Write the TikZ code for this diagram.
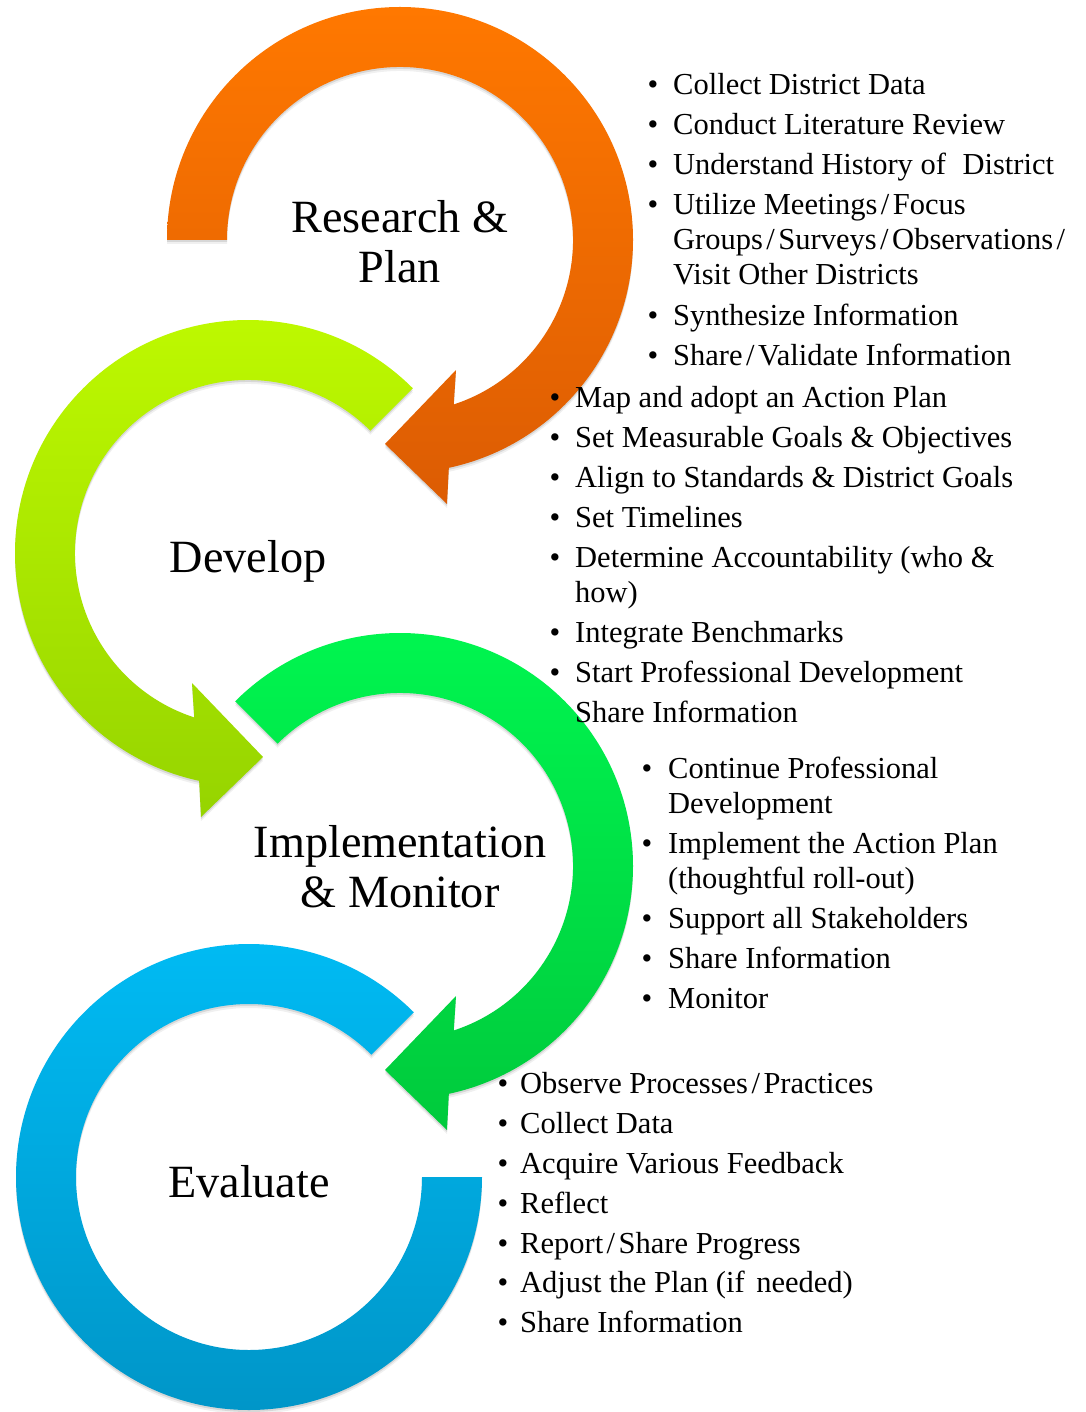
\documentclass[tikz,border=0pt]{standalone}
\usepackage{fontspec}
\setmainfont{Liberation Serif}
\definecolor{orT}{HTML}{FF7800}
\definecolor{orB}{HTML}{DC5C03}
\definecolor{ygT}{HTML}{BFFA00}
\definecolor{ygB}{HTML}{96D400}
\definecolor{grT}{HTML}{00F750}
\definecolor{grB}{HTML}{00CA3C}
\definecolor{blT}{HTML}{00BCF5}
\definecolor{blB}{HTML}{0094C6}
\newcommand\slsh{\kern3.5pt/\kern3.5pt}
% circular arrow: #1,#2 centre, #3 xscale (1 or -1), #4 start angle, #5 top colour, #6 bottom colour
\newcommand\circarrow[6]{%
  \begin{scope}[shift={(#1,#2)},xscale=#3]
    \foreach \dy/\op in {-2/0.10,-4/0.06}{%
      \fill[black,opacity=\op,shift={(0,\dy)}] (#4:233) arc[start angle=#4,end angle=-77.9,radius=233]
        -- (47,-264) -- (-15,-204) -- (56,-130) -- (-71.9:173)
        arc[start angle=-71.9,end angle=#4,radius=173] -- cycle;}
    \path[top color=#5,bottom color=#6] (#4:233) arc[start angle=#4,end angle=-77.9,radius=233]
      -- (47,-264) -- (-15,-204) -- (56,-130) -- (-71.9:173)
      arc[start angle=-71.9,end angle=#4,radius=173] -- cycle;
  \end{scope}}
\newcommand\bitem[5]{% name, bullet x, text x, baseline y, text
  \node[bul] (#1b) at (#2,-#4) {\textbullet};
  \node[itm] (#1) at (#3,-#4) {#5};}
\newcommand\citem[4]{% name, text x, baseline y, text
  \node[itm] (#1) at (#2,-#3) {#4};}
\begin{document}
\begin{tikzpicture}[x=1pt,y=1pt,
  lbl/.style={font=\fontsize{46.2}{50}\selectfont,inner sep=0,anchor=base},
  itm/.style={font=\fontsize{30.5}{35}\selectfont,inner sep=0,anchor=base west},
  bul/.style={font=\fontsize{30.5}{35}\selectfont,inner sep=0,anchor=base}]
\fill[white] (0,0) rectangle (1085,-1412);
\useasboundingbox (0,0) rectangle (1085,-1412);

% blue ring (Evaluate)
\begin{scope}[shift={(249,-1177)}]
  \foreach \dy/\op in {-2/0.10,-4/0.06}{%
    \fill[black,opacity=\op,shift={(0,\dy)}] (45:233) arc[start angle=45,end angle=360,radius=233]
      -- (0:173) arc[start angle=360,end angle=45,radius=173] -- cycle;}
  \path[top color=blT,bottom color=blB] (45:233) arc[start angle=45,end angle=360,radius=233]
    -- (0:173) arc[start angle=360,end angle=45,radius=173] -- cycle;
\end{scope}
% green (Implementation & Monitor)
\circarrow{400}{-866}{1}{135}{grT}{grB}
% yellow-green (Develop)
\circarrow{248}{-553}{-1}{135}{ygT}{ygB}
% orange (Research & Plan)
\circarrow{400}{-240}{1}{180}{orT}{orB}

% stage labels
\node[lbl] (rp1) at (400,-233) {Research \&};
\node[lbl] (rp2) at (400,-283) {Plan};
\node[lbl] (dev) at (248,-572) {Develop};
\node[lbl] (im1) at (400,-857) {Implementation};
\node[lbl] (im2) at (400,-907) {\& Monitor};
\node[lbl] (ev) at (249,-1197) {Evaluate};

% list 1
\bitem{a1}{653}{673}{95}{Collect District Data}
\bitem{a2}{653}{673}{135}{Conduct Literature Review}
\bitem{a3}{653}{673}{175}{Understand History of\hspace{9pt} District}
\bitem{a4}{653}{673}{215}{Utilize Meetings\slsh Focus}
\citem{a4b}{673}{250}{Groups\slsh Surveys\slsh Observations\slsh}
\citem{a4c}{673}{285}{Visit Other Districts}
\bitem{a5}{653}{673}{325}{Synthesize Information}
\bitem{a6}{653}{673}{365}{Share\slsh Validate Information}
% list 2
\bitem{b1}{555}{575}{407}{Map and adopt an Action Plan}
\bitem{b2}{555}{575}{447}{Set Measurable Goals \& Objectives}
\bitem{b3}{555}{575}{487}{Align to Standards \& District Goals}
\bitem{b4}{555}{575}{527}{Set Timelines}
\bitem{b5}{555}{575}{567}{Determine Accountability (who \&}
\citem{b5b}{575}{602}{how)}
\bitem{b6}{555}{575}{642}{Integrate Benchmarks}
\bitem{b7}{555}{575}{682}{Start Professional Development}
\citem{b8}{575}{722}{Share Information}
% list 3
\bitem{c1}{647}{668}{778}{Continue Professional}
\citem{c1b}{668}{813}{Development}
\bitem{c2}{647}{668}{853}{Implement the Action Plan}
\citem{c2b}{668}{888}{(thoughtful roll-out)}
\bitem{c3}{647}{668}{928}{Support all Stakeholders}
\bitem{c4}{647}{668}{968}{Share Information}
\bitem{c5}{647}{668}{1008}{Monitor}
% list 4
\bitem{d1}{503}{520}{1093}{Observe Processes\slsh Practices}
\bitem{d2}{503}{520}{1133}{Collect Data}
\bitem{d3}{503}{520}{1173}{Acquire Various Feedback}
\bitem{d4}{503}{520}{1213}{Reflect}
\bitem{d5}{503}{520}{1253}{Report\slsh Share Progress}
\bitem{d6}{503}{520}{1292}{Adjust the Plan (if\hspace{4pt} needed)}
\bitem{d7}{503}{520}{1332}{Share Information}
\end{tikzpicture}
\end{document}
